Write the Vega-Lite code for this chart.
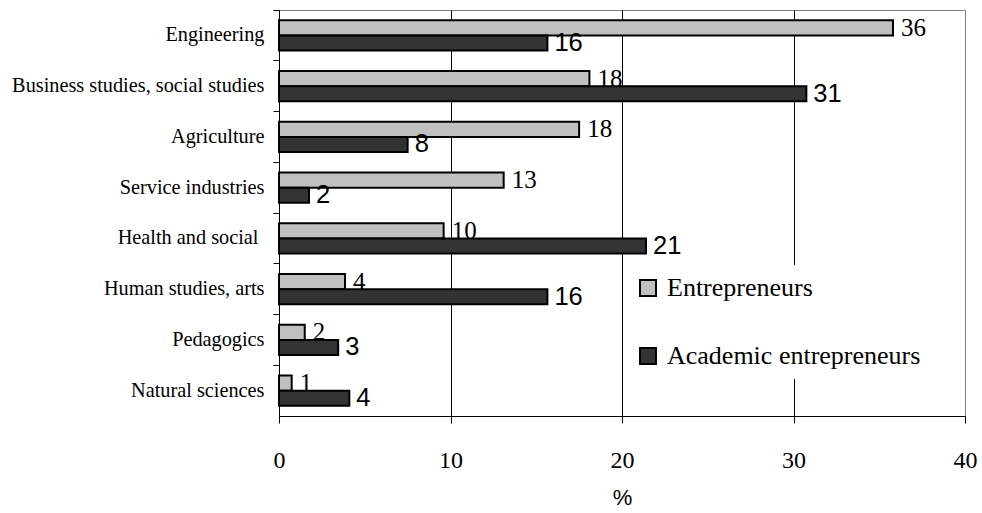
{
  "$schema": "https://vega.github.io/schema/vega-lite/v6.json",
  "autosize": {"type": "none"},
  "width": 686,
  "height": 406,
  "padding": {"left": 279, "top": 10, "right": 17, "bottom": 97},
  "background": "white",
  "config": {
    "view": {"stroke": "#808080", "strokeWidth": 1},
    "axis": {"domainColor": "black", "tickColor": "black", "labelColor": "black", "titleColor": "black"}
  },
  "data": {
    "values": [
      {"field": "Engineering", "group": "Entrepreneurs", "value": 35.8},
      {"field": "Engineering", "group": "Academic entrepreneurs", "value": 15.65},
      {"field": "Business studies, social studies", "group": "Entrepreneurs", "value": 18.1},
      {"field": "Business studies, social studies", "group": "Academic entrepreneurs", "value": 30.75},
      {"field": "Agriculture", "group": "Entrepreneurs", "value": 17.5},
      {"field": "Agriculture", "group": "Academic entrepreneurs", "value": 7.5},
      {"field": "Service industries", "group": "Entrepreneurs", "value": 13.1},
      {"field": "Service industries", "group": "Academic entrepreneurs", "value": 1.75},
      {"field": "Health and social", "group": "Entrepreneurs", "value": 9.6},
      {"field": "Health and social", "group": "Academic entrepreneurs", "value": 21.4},
      {"field": "Human studies, arts", "group": "Entrepreneurs", "value": 3.85},
      {"field": "Human studies, arts", "group": "Academic entrepreneurs", "value": 15.65},
      {"field": "Pedagogics", "group": "Entrepreneurs", "value": 1.5},
      {"field": "Pedagogics", "group": "Academic entrepreneurs", "value": 3.45},
      {"field": "Natural sciences", "group": "Entrepreneurs", "value": 0.74},
      {"field": "Natural sciences", "group": "Academic entrepreneurs", "value": 4.1}
    ]
  },
  "encoding": {
    "y": {
      "field": "field",
      "type": "nominal",
      "sort": ["Engineering", "Business studies, social studies", "Agriculture", "Service industries", "Health and social", "Human studies, arts", "Pedagogics", "Natural sciences"],
      "scale": {"paddingInner": 0.4, "paddingOuter": 0.2},
      "axis": {
        "title": null,
        "labelFont": "Liberation Serif",
        "labelFontSize": 20.3,
        "tickSize": 6,
        "labelPadding": {"condition": {"test": "datum.value === 'Health and social'", "value": 15}, "value": 9},
        "bandPosition": -0.3333,
        "domainColor": "black",
        "labelLimit": 400
      }
    },
    "yOffset": {
      "field": "group",
      "type": "nominal",
      "sort": ["Entrepreneurs", "Academic entrepreneurs"],
      "scale": {"paddingInner": 0, "paddingOuter": 0}
    },
    "x": {
      "field": "value",
      "type": "quantitative",
      "scale": {"domain": [0, 40], "nice": false, "zero": true},
      "axis": {
        "values": [0, 10, 20, 30, 40],
        "title": "%",
        "titleFont": "Liberation Sans",
        "titleFontSize": 22,
        "titleFontWeight": "normal",
        "titlePadding": 15,
        "labelFont": "Liberation Serif",
        "labelFontSize": 24,
        "labelFlush": false,
        "tickSize": 7,
        "labelPadding": 25,
        "grid": true,
        "gridColor": {"condition": {"test": "datum.value === 40", "value": "#808080"}, "value": "black"},
        "gridWidth": 1,
        "gridOpacity": 1
      }
    }
  },
  "layer": [
    {
      "transform": [{"filter": "datum.group === 'Entrepreneurs'"}],
      "mark": {"type": "text", "align": "left", "baseline": "middle", "dx": 8, "font": "Liberation Serif", "fontSize": 25, "color": "black"},
      "encoding": {"text": {"field": "value", "type": "quantitative", "format": ".0f"}}
    },
    {
      "mark": {"type": "bar", "stroke": "black", "strokeWidth": 2},
      "encoding": {
        "color": {
          "field": "group",
          "type": "nominal",
          "sort": ["Entrepreneurs", "Academic entrepreneurs"],
          "scale": {"domain": ["Entrepreneurs", "Academic entrepreneurs"], "range": ["#C0C0C0", "#333333"]},
          "legend": {
            "orient": "none",
            "legendX": 346,
            "legendY": 255,
            "title": null,
            "fillColor": "white",
            "padding": 10,
            "symbolType": "square",
            "symbolSize": 256,
            "symbolStrokeColor": "black",
            "symbolStrokeWidth": 2,
            "symbolOpacity": 1,
            "labelFont": "Liberation Serif",
            "labelFontSize": 26,
            "labelColor": "black",
            "labelOffset": 6,
            "rowPadding": 42,
            "labelLimit": 400
          }
        }
      }
    },
    {
      "transform": [{"filter": "datum.group === 'Academic entrepreneurs'"}],
      "mark": {"type": "text", "align": "left", "baseline": "middle", "dx": 7, "font": "Liberation Sans", "fontSize": 25.5, "color": "black"},
      "encoding": {"text": {"field": "value", "type": "quantitative", "format": ".0f"}}
    }
  ]
}
